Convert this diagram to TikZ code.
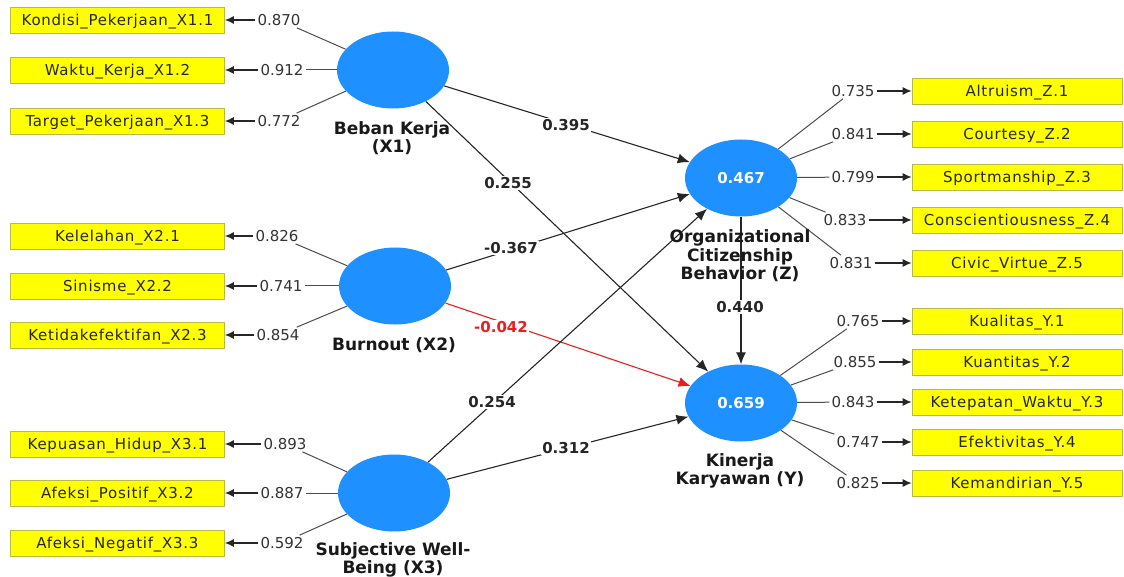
\documentclass[tikz,border=0pt]{standalone}
\usepackage{fontspec}
\setmainfont{DejaVu Sans}
\newfontfamily\boxfont{DejaVu Sans}[LetterSpace=5]
\usetikzlibrary{arrows.meta,shapes.geometric}
\definecolor{lvblue}{RGB}{30,144,255}
\definecolor{boxyellow}{RGB}{255,255,0}
\definecolor{boxborder}{RGB}{185,185,70}
\definecolor{pathred}{RGB}{235,30,30}
\begin{document}
\begin{tikzpicture}[x=1pt,y=-1pt,
 lv/.style={ellipse, fill=lvblue, minimum width=112pt, minimum height=77pt, inner sep=0pt, text=white, font=\fontsize{15}{18}\selectfont\bfseries},
 ind/.style={rectangle, fill=boxyellow, draw=boxborder, line width=0.8pt, minimum width=214pt, minimum height=26pt, inner sep=0pt, text height=11pt, text depth=0pt, font=\boxfont\fontsize{15}{18}\selectfont, text=black!85},
 indr/.style={ind, minimum width=210pt},
 ld/.style={inner sep=2pt, font=\fontsize{15}{18}\selectfont, text=black!80},
 coef/.style={fill=white, inner sep=1.5pt, font=\fontsize{15}{18}\selectfont\bfseries, text=black!85},
 lvname/.style={align=center, font=\fontsize{17}{18.5}\selectfont\bfseries, text=black!90},
 wire/.style={draw=black!70, line width=1pt},
 itip/.style={-{Latex[length=9pt,width=8pt]}, draw=black!85, line width=1.1pt},
 ptip/.style={-{Latex[length=12pt,width=10pt]}, draw=black!85, line width=1.1pt},
]
\useasboundingbox (0,0) rectangle (1124,577);
\fill[white] (0,0) rectangle (1124,577);

% latent variables
\node[lv] (X1) at (393,70) {};
\node[lv] (X2) at (395,286) {};
\node[lv] (X3) at (394,493) {};
\node[lv] (Z) at (741,178) {0.467};
\node[lv] (Y) at (741,403) {0.659};

% left indicators
\node[ind] (b11) at (117.5,20) {Kondisi\_Pekerjaan\_X1.1};
\node[ind] (b12) at (117.5,70) {Waktu\_Kerja\_X1.2};
\node[ind] (b13) at (117.5,121) {Target\_Pekerjaan\_X1.3};
\node[ind] (b21) at (117.5,236) {Kelelahan\_X2.1};
\node[ind] (b22) at (117.5,286) {Sinisme\_X2.2};
\node[ind] (b23) at (117.5,335) {Ketidakefektifan\_X2.3};
\node[ind] (b31) at (117.5,444) {Kepuasan\_Hidup\_X3.1};
\node[ind] (b32) at (117.5,493) {Afeksi\_Positif\_X3.2};
\node[ind] (b33) at (117.5,543) {Afeksi\_Negatif\_X3.3};

\node[ld] (l11) at (279,20) {0.870};
\node[ld] (l12) at (282,70) {0.912};
\node[ld] (l13) at (279,121) {0.772};
\node[ld] (l21) at (277,236) {0.826};
\node[ld] (l22) at (281,286) {0.741};
\node[ld] (l23) at (278,335) {0.854};
\node[ld] (l31) at (285,444) {0.893};
\node[ld] (l32) at (282,493) {0.887};
\node[ld] (l33) at (282,543) {0.592};

% right indicators
\node[indr] (z1) at (1017,91) {Altruism\_Z.1};
\node[indr] (z2) at (1017,134) {Courtesy\_Z.2};
\node[indr] (z3) at (1017,177) {Sportmanship\_Z.3};
\node[indr] (z4) at (1017,220) {Conscientiousness\_Z.4};
\node[indr] (z5) at (1017,263) {Civic\_Virtue\_Z.5};
\node[indr] (y1) at (1017,321) {Kualitas\_Y.1};
\node[indr] (y2) at (1017,362) {Kuantitas\_Y.2};
\node[indr] (y3) at (1017,402) {Ketepatan\_Waktu\_Y.3};
\node[indr] (y4) at (1017,442) {Efektivitas\_Y.4};
\node[indr] (y5) at (1017,483) {Kemandirian\_Y.5};

\node[ld] (lz1) at (853,91) {0.735};
\node[ld] (lz2) at (853,134) {0.841};
\node[ld] (lz3) at (853,177) {0.799};
\node[ld] (lz4) at (845,220) {0.833};
\node[ld] (lz5) at (851,263) {0.831};
\node[ld] (ly1) at (858,321) {0.765};
\node[ld] (ly2) at (855,362) {0.855};
\node[ld] (ly3) at (853,402) {0.843};
\node[ld] (ly4) at (858,442) {0.747};
\node[ld] (ly5) at (858,483) {0.825};

% outer model lines
\foreach \lv/\i in {X1/1,X2/2,X3/3}{
  \foreach \j in {1,2,3}{
    \draw[wire] (\lv) -- (l\i\j);
    \draw[itip] (l\i\j) -- (b\i\j);
  }
}
\foreach \j in {1,...,5}{
  \draw[wire] (Z) -- (lz\j);
  \draw[itip] (lz\j) -- (z\j);
  \draw[wire] (Y) -- (ly\j);
  \draw[itip] (ly\j) -- (y\j);
}

% inner model
\draw[ptip] (X1) -- (Z);
\draw[ptip] (X1) -- (Y);
\draw[ptip] (X2) -- (Z);
\draw[ptip, draw=pathred, color=pathred] (X2) -- (Y);
\draw[ptip] (X3) -- (Z);
\draw[ptip] (X3) -- (Y);
\draw[ptip] (Z) -- (Y);

\node[coef] (c1) at (566,125) {0.395};
\node[coef] (c2) at (508,183) {0.255};
\node[coef] (c3) at (511,248) {-0.367};
\node[coef, text=pathred] (c4) at (501,327) {-0.042};
\node[coef] (c5) at (492,402) {0.254};
\node[coef] (c6) at (566,448) {0.312};
\node[coef] (c7) at (740,307) {0.440};

% latent names
\node[lvname] (n1) at (392,138) {Beban Kerja\\(X1)};
\node[lvname] (n2) at (394,345) {Burnout (X2)};
\node[lvname] (n3) at (393,560) {Subjective Well-\\Being (X3)};
\node[lvname] (n4) at (740,256) {Organizational\\Citizenship\\Behavior (Z)};
\node[lvname] (n5) at (740,471) {Kinerja\\Karyawan (Y)};
\end{tikzpicture}
\end{document}
